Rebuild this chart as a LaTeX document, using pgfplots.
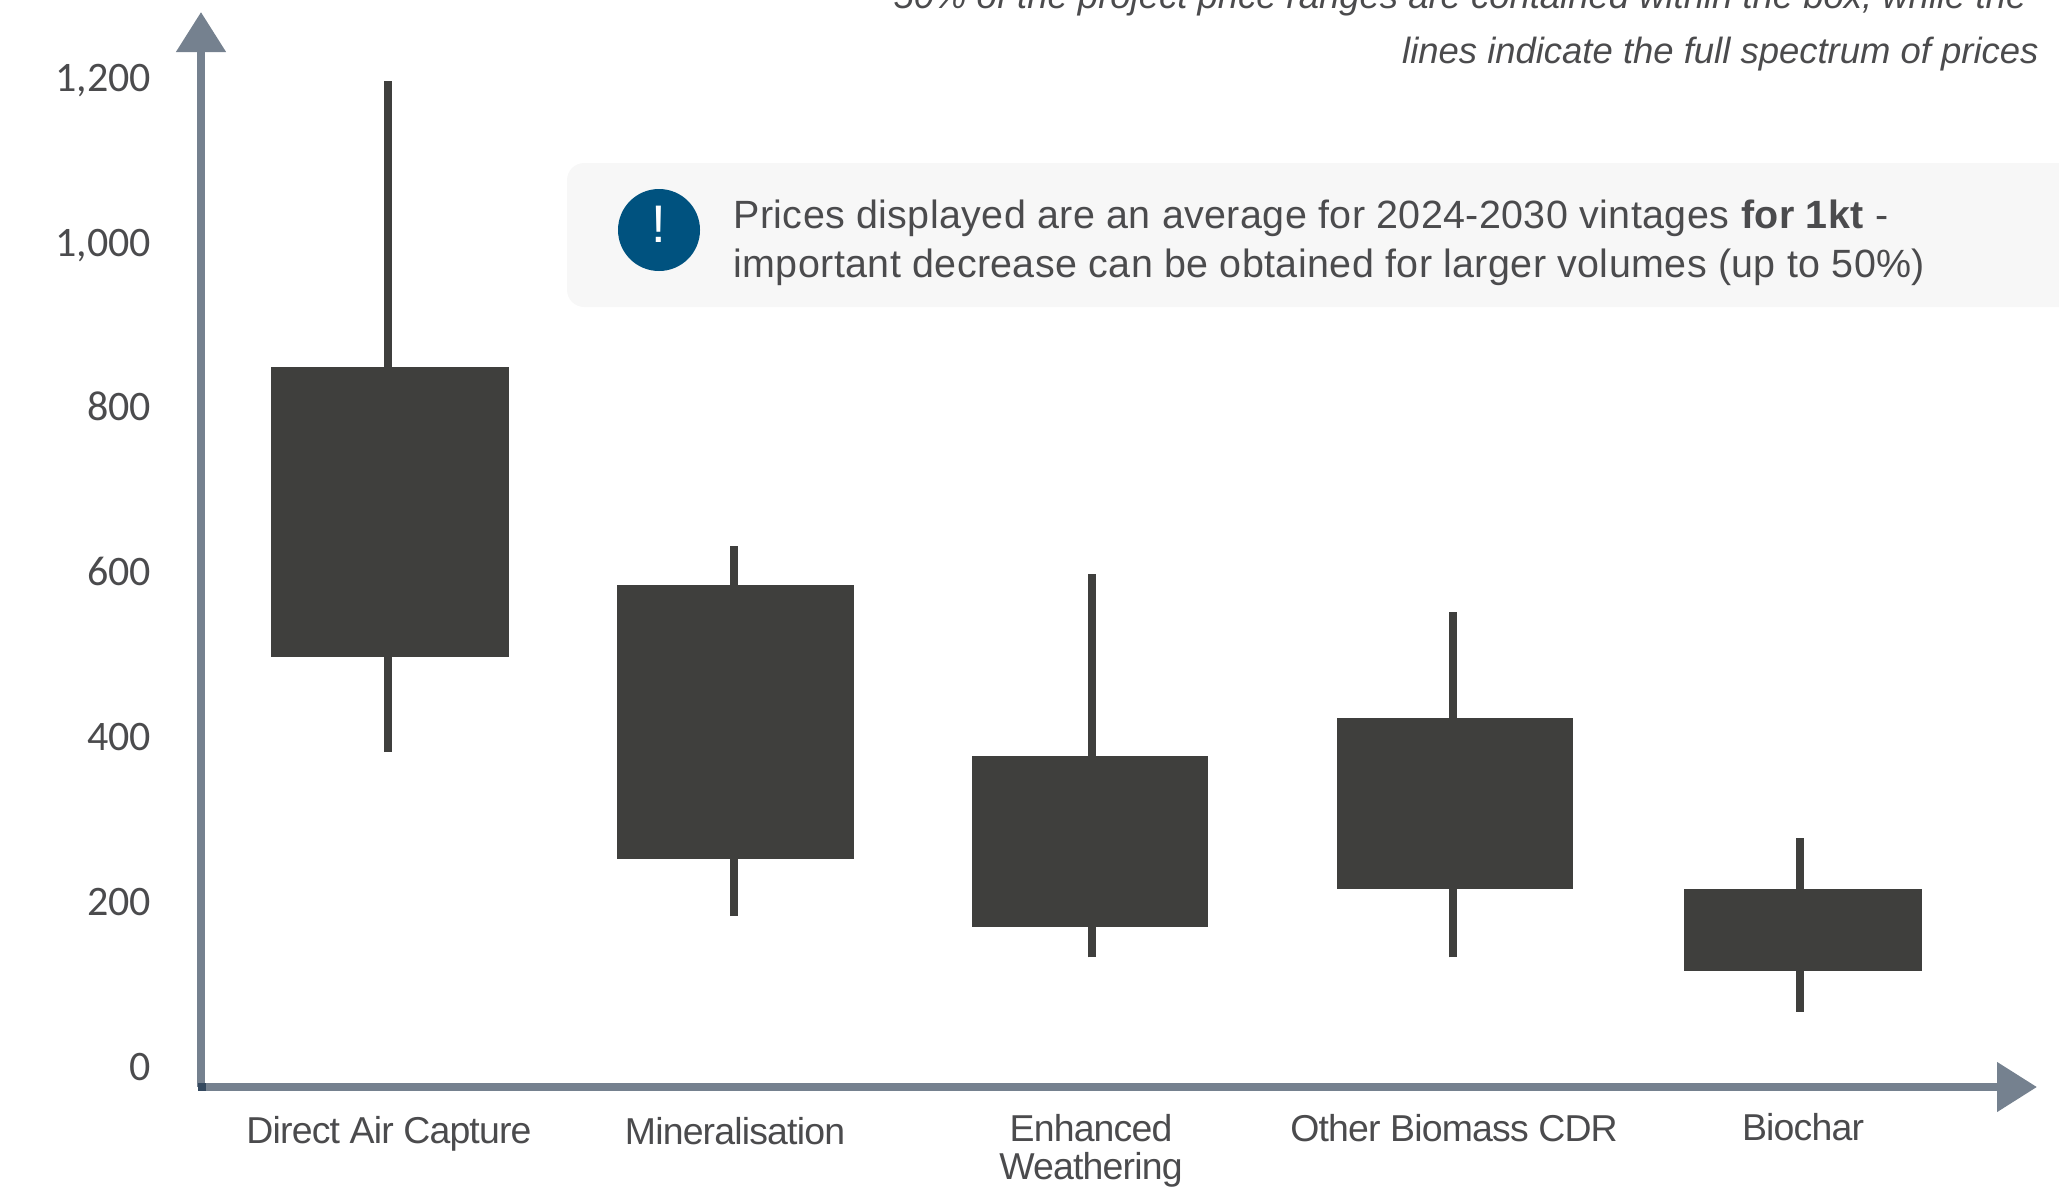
\documentclass[border=0pt]{standalone}
\usepackage{fontspec}
\usepackage{pgfplots}
\pgfplotsset{compat=1.18}
\usetikzlibrary{arrows.meta}
\setmainfont{Liberation Sans}
\newfontfamily\catfont[LetterSpace=-2.2]{Liberation Sans}
\newfontfamily\notefont[LetterSpace=1.0]{Liberation Sans}
\newfontfamily\tickfont{Carlito}
\definecolor{axisc}{HTML}{75818F}
\definecolor{cornerc}{HTML}{34495F}
\definecolor{barc}{HTML}{3F3F3D}
\definecolor{txtc}{HTML}{4B4B4D}
\definecolor{panelc}{HTML}{F7F7F7}
\definecolor{badgec}{HTML}{00527F}
\begin{document}
\begin{tikzpicture}
\useasboundingbox (0,0) rectangle (720.65pt,-417.9pt);
% info panel and notes, positioned on a 0.35pt grid
\begin{scope}[x=0.35pt,y=-0.35pt]
  \fill[panelc, rounded corners=6pt] (567,163) rectangle (2150,307);
  \fill[badgec] (659,230) circle (41);
  \node[white, inner sep=0pt, font=\fontsize{18.5}{19}\selectfont] at (659,224) {!};
  \node[anchor=base west, inner sep=0, text=txtc, font=\fontsize{13.8}{15}\selectfont\notefont]
    at (733,228) {Prices displayed are an average for 2024-2030 vintages \textbf{for 1kt} -};
  \node[anchor=base west, inner sep=0, text=txtc, font=\fontsize{13.8}{15}\selectfont\notefont]
    at (733,277) {important decrease can be obtained for larger volumes (up to 50\%)};
  \node[anchor=base east, inner sep=0, text=txtc, font=\fontsize{12.76}{15}\selectfont\itshape]
    at (2027,8) {50\% of the project price ranges are contained within the box, while the};
  \node[anchor=base east, inner sep=0, text=txtc, font=\fontsize{12.76}{15}\selectfont\itshape]
    at (2039,63) {lines indicate the full spectrum of prices};
\end{scope}
\begin{axis}[
  at={(70.35pt,-380.45pt)}, anchor=south west,
  scale only axis, width=642.6pt, height=376.25pt,
  xmin=201, xmax=2037, ymin=-24.27, ymax=1280.3,
  axis lines=left,
  axis line style={axisc, line width=2.8pt, -{Triangle[length=14pt,width=16.8pt]}},
  major tick length=0pt,
  tick style={draw=none},
  ytick={0,200,...,1200},
  xtick={389,735,1091,1454,1803},
  xticklabels={\rule{0pt}{10.9pt}Direct Air Capture, \rule{0pt}{11.4pt}Mineralisation,
    \rule{0pt}{10.4pt}Enhanced\\[-0.6pt]Weathering, \rule{0pt}{10.4pt}Other Biomass CDR, \rule{0pt}{10pt}Biochar},
  yticklabel style={/pgf/number format/assume math mode=true, /pgf/number format/1000 sep={,},
    text=txtc, font=\fontsize{14.7}{15}\selectfont\tickfont, anchor=base east, inner sep=0pt,
    xshift=-17.3pt, yshift=-4.6pt},
  xticklabel style={text=txtc, font=\fontsize{13.1}{14}\selectfont\catfont, align=center,
    anchor=north, inner sep=0pt, yshift=-8.5pt},
  clip=false,
]
% full price range of each technology
\addplot[barc, line width=2.8pt] coordinates {(388,382)(388,1196)};
\addplot[barc, line width=2.8pt] coordinates {(734,183)(734,632)};
\addplot[barc, line width=2.8pt] coordinates {(1092,133)(1092,598)};
\addplot[barc, line width=2.8pt] coordinates {(1453,133)(1453,552)};
\addplot[barc, line width=2.8pt] coordinates {(1800,67)(1800,278)};
% central 50% of project prices
\addplot[fill=barc, draw=none] coordinates {(271,497)(509,497)(509,850)(271,850)} -- cycle;
\addplot[fill=barc, draw=none] coordinates {(617,253)(854,253)(854,585)(617,585)} -- cycle;
\addplot[fill=barc, draw=none] coordinates {(972,170)(1208,170)(1208,377)(972,377)} -- cycle;
\addplot[fill=barc, draw=none] coordinates {(1337,216)(1573,216)(1573,423)(1337,423)} -- cycle;
\addplot[fill=barc, draw=none] coordinates {(1684,117)(1922,117)(1922,216)(1684,216)} -- cycle;
\end{axis}
\begin{scope}[x=0.35pt,y=-0.35pt]
  \fill[cornerc] (197.5,1083) rectangle (205.5,1091);
\end{scope}
\end{tikzpicture}
\end{document}
